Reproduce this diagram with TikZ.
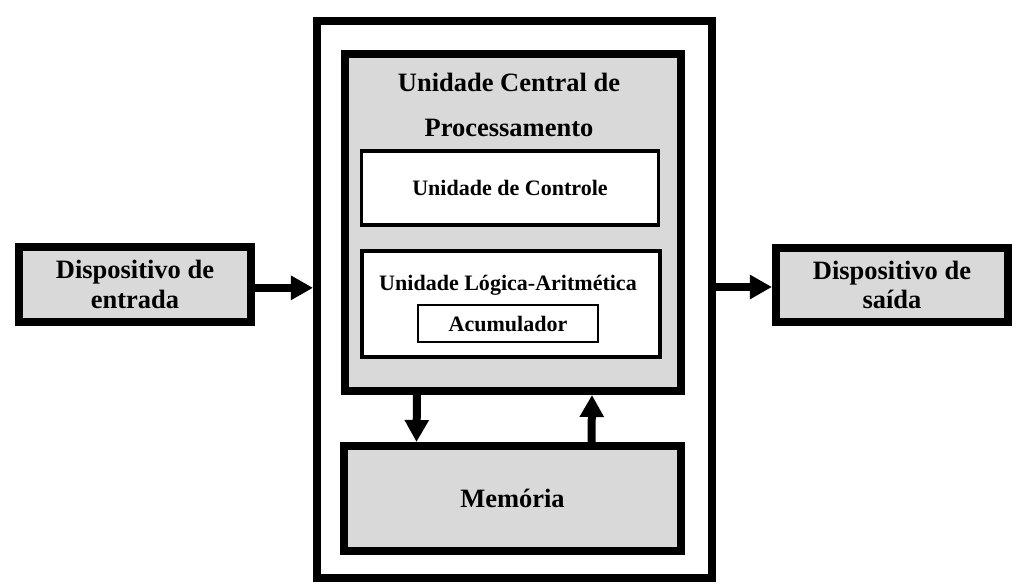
\documentclass[tikz,border=0pt]{standalone}
\usepackage{fontspec}
\setmainfont{Liberation Serif}
\usepackage{xcolor}
\usepackage{tikz}
\usetikzlibrary{positioning, arrows.meta, calc}

\definecolor{boxgray}{HTML}{D9D9D9}

\begin{document}
\begin{tikzpicture}[
      x=0.03cm, y=-0.03cm,
      thickbox/.style={rectangle, draw, line width=0.24cm, inner sep=0pt},
      thinbox/.style={rectangle, draw, line width=0.105cm, fill=white, inner sep=0pt},
      bigtext/.style={font=\bfseries\fontsize{22.6}{25}\selectfont, align=center},
      smalltext/.style={font=\bfseries\fontsize{18.8}{22}\selectfont, align=center},
      arr/.style={line width=0.24cm, -{Triangle[length=0.66cm, width=0.69cm]}}
    ]
      \useasboundingbox (0,0) rectangle (1024,587);

      % Outer frame and CPU
      \node[thickbox, minimum width=11.85cm, minimum height=16.68cm] (outer) at (514.5,299.5) {};
      \node[thickbox, fill=boxgray, minimum width=10.08cm, minimum height=10.11cm] (cpu) at (513,222.5) {};
      \node[bigtext, font=\bfseries\fontsize{22.6}{38.4}\selectfont] (cputitle) at (509,104.5)
        {Unidade Central de\\Processamento};

      \node[thinbox, smalltext, minimum width=8.91cm, minimum height=2.22cm] (ctrl) at (510,188)
        {Unidade de Controle};
      \node[thinbox, minimum width=8.94cm, minimum height=3.165cm] (ula) at (511,304) {};
      \node[smalltext] (ulatitle) at (508,285) {Unidade Lógica-Aritmética};
      \node[thinbox, smalltext, line width=0.06cm, minimum width=5.4cm, minimum height=1.11cm] (acc) at (508,323.5)
        {Acumulador};

      \node[thickbox, bigtext, fill=boxgray, minimum width=10.11cm, minimum height=3.15cm] (mem) at (512.5,498.5)
        {Memória};

      % Input and output
      \node[thickbox, bigtext, fill=boxgray, minimum width=6.96cm, minimum height=2.25cm] (entrada) at (135,284.5)
        {Dispositivo de\\entrada};
      \node[thickbox, bigtext, fill=boxgray, minimum width=6.96cm, minimum height=2.22cm] (saida) at (892,285)
        {Dispositivo de\\saída};

      \draw[arr] ([yshift=-0.1cm]entrada.east) -- ([yshift=-0.1cm]entrada.east -| outer.west);
      \draw[arr] ([yshift=-0.06cm]saida.west -| outer.east) -- ([yshift=-0.06cm]saida.west);
      \draw[arr] ([xshift=-2.88cm]cpu.south) -- ([xshift=-2.88cm]mem.north);
      \draw[arr] ([xshift=2.37cm]mem.north) -- ([xshift=2.37cm]cpu.south);
    \end{tikzpicture}
\end{document}
